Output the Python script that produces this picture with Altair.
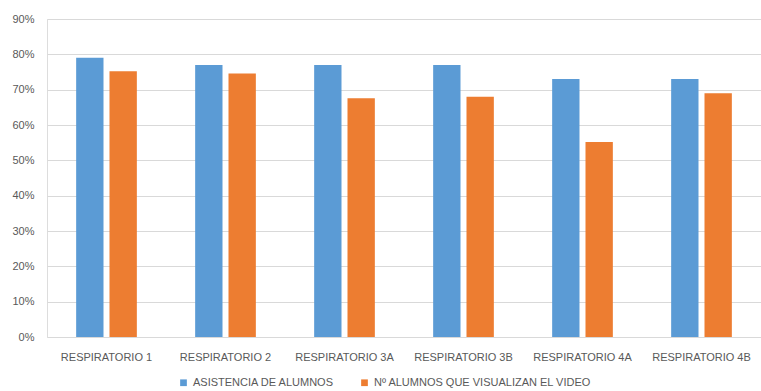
import altair as alt
import pandas as pd

categorias = ["RESPIRATORIO 1", "RESPIRATORIO 2", "RESPIRATORIO 3A",
              "RESPIRATORIO 3B", "RESPIRATORIO 4A", "RESPIRATORIO 4B"]
series = ["ASISTENCIA DE ALUMNOS", "Nº ALUMNOS QUE VISUALIZAN EL VIDEO"]
asistencia = [0.79, 0.77, 0.77, 0.77, 0.73, 0.73]
visualizan = [0.752, 0.746, 0.676, 0.68, 0.552, 0.69]
colores = ["#5B9BD5", "#ED7D31"]

rows = []
for cat, a, v in zip(categorias, asistencia, visualizan):
    rows.append({"categoria": cat, "serie": series[0], "valor": a})
    rows.append({"categoria": cat, "serie": series[1], "valor": v})
df = pd.DataFrame(rows)

FONT = "Liberation Sans"
GRAY = "#595959"

chart = alt.Chart(df).mark_bar().encode(
    x=alt.X("categoria:N", sort=categorias, title=None,
            scale=alt.Scale(paddingInner=0.49, paddingOuter=0.245),
            axis=alt.Axis(labelAngle=0, labelFont=FONT, labelFontSize=11,
                          labelColor=GRAY, domain=False, ticks=False,
                          labelPadding=14, grid=False)),
    xOffset=alt.XOffset("serie:N", sort=series,
                        scale=alt.Scale(paddingInner=0.18, paddingOuter=0)),
    y=alt.Y("valor:Q", title=None,
            scale=alt.Scale(domain=[0, 0.9], nice=False),
            axis=alt.Axis(format=".0%", values=[i / 10 for i in range(10)],
                          labelFont=FONT, labelFontSize=11, labelColor=GRAY,
                          domain=False, ticks=False, labelPadding=13,
                          gridColor="#D9D9D9", gridWidth=1)),
    color=alt.Color("serie:N", sort=series,
                    scale=alt.Scale(domain=series, range=colores),
                    legend=alt.Legend(title=None, orient="none",
                                      direction="horizontal",
                                      legendX=131, legendY=40 + 318,
                                      symbolType="square", symbolSize=45,
                                      symbolStrokeWidth=0,
                                      labelFont=FONT, labelFontSize=11,
                                      labelColor=GRAY, columnPadding=24,
                                      labelLimit=400)),
).properties(
    width=714, height=318,
    autosize=alt.AutoSizeParams(type="none"),
    padding={"left": 47, "top": 19, "right": 0, "bottom": 54},
).configure_view(stroke=None).configure(background="white")

chart.save("out.html", embed_options={"renderer": "svg", "actions": False})
